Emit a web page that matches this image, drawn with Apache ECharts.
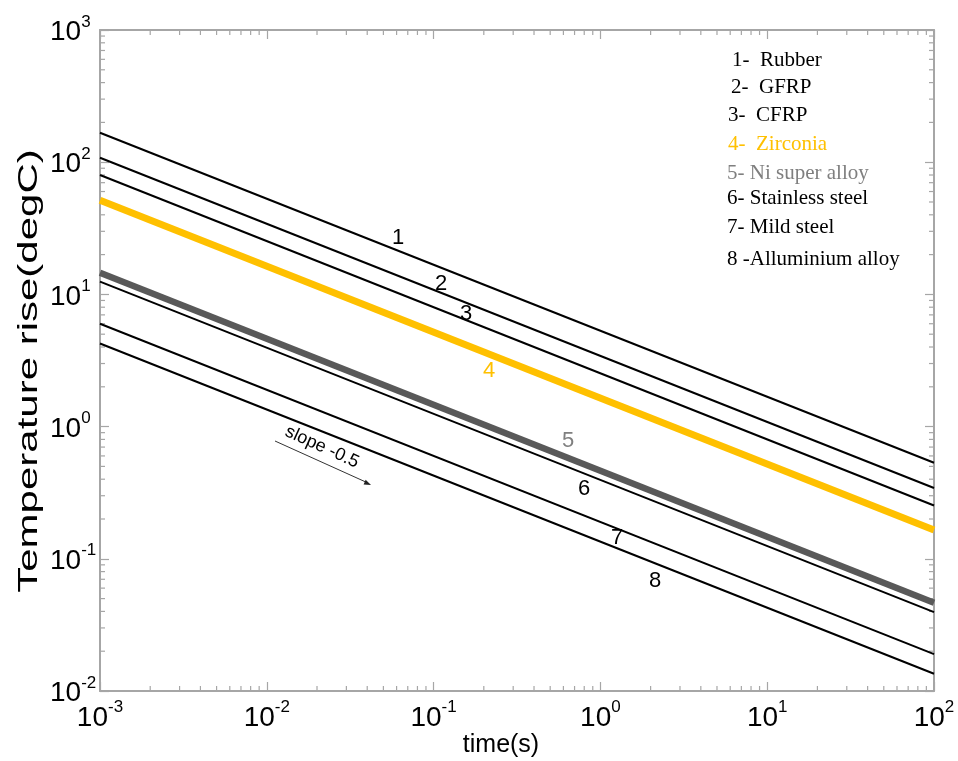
<!DOCTYPE html>
<html>
<head>
<meta charset="utf-8">
<script src="https://cdn.jsdelivr.net/npm/echarts@6/dist/echarts.min.js"></script>
<style>
  html, body { margin: 0; padding: 0; background: #ffffff; }
  #chart { width: 958px; height: 761px; }
</style>
</head>
<body>
<div id="chart"></div>
<script>
// Time at the start and end of every trace (s)
const timeSpan = [0.001, 100];

// Temperature rise (degC) at the start and end of each trace
const rubber         = [167, 0.533];
const gfrp           = [108, 0.343];
const cfrp           = [80, 0.253];
const zirconia       = [51.5, 0.165];
const niSuperAlloy   = [14.6, 0.0465];
const stainlessSteel = [12.5, 0.0395];
const mildSteel      = [6.0, 0.019];
const aluminiumAlloy = [4.25, 0.0135];

const legendLabels = [
  '1-  Rubber', '2-  GFRP', '3-  CFRP', '4-  Zirconia',
  '5- Ni super alloy', '6- Stainless steel', '7- Mild steel', '8 -Alluminium alloy'
];
const curveNumbers = ['1', '2', '3', '4', '5', '6', '7', '8'];

// Axis ranges and minor tick multipliers for the decades
const xRange = [0.001, 100];
const yRange = [0.01, 1000];
const minorSteps = [2, 3, 4, 5, 6, 7, 8, 9];

const BLACK = '#000000';
const AMBER = '#FFC000';
const GREY = '#595959';
const GREY_TEXT = '#7f7f7f';
const AXIS_GREY = '#a6a6a6';

const traces = [
  { name: 'Rubber', v: rubber, color: BLACK, width: 2 },
  { name: 'GFRP', v: gfrp, color: BLACK, width: 2 },
  { name: 'CFRP', v: cfrp, color: BLACK, width: 2 },
  { name: 'Zirconia', v: zirconia, color: AMBER, width: 7 },
  { name: 'Ni super alloy', v: niSuperAlloy, color: GREY, width: 6.5 },
  { name: 'Stainless steel', v: stainlessSteel, color: BLACK, width: 2 },
  { name: 'Mild steel', v: mildSteel, color: BLACK, width: 2 },
  { name: 'Alluminium alloy', v: aluminiumAlloy, color: BLACK, width: 2 }
];

function decadesBetween(lo, hi) {
  const out = [];
  for (let e = Math.round(Math.log10(lo)); e < Math.round(Math.log10(hi)); e++) out.push(e);
  return out;
}
const xMinor = [];
decadesBetween(xRange[0], xRange[1]).forEach(e => minorSteps.forEach(k => xMinor.push(k * Math.pow(10, e))));
const yMinor = [];
decadesBetween(yRange[0], yRange[1]).forEach(e => minorSteps.forEach(k => yMinor.push(k * Math.pow(10, e))));

const FONT = '"Liberation Sans", Arial, sans-serif';
const SERIF = '"Liberation Serif", "Times New Roman", serif';

const powerLabel = v => '{b|10}{e|' + Math.round(Math.log10(v)) + '}';
const powerRich = {
  b: { fontFamily: FONT, fontSize: 28, color: '#000', verticalAlign: 'bottom' },
  e: { fontFamily: FONT, fontSize: 17, color: '#000', verticalAlign: 'bottom', padding: [0, 0, 16, 0] }
};

const axisLineStyle = { color: AXIS_GREY, width: 2 };
const baseLog = { type: 'log', logBase: 10, splitLine: { show: false } };

const chart = echarts.init(document.getElementById('chart'), null, { renderer: 'canvas' });

const minorTickSeries = (isX) => ({
  type: 'custom',
  silent: true,
  z: 1,
  data: isX ? xMinor.map(v => [v, yRange[0]]) : yMinor.map(v => [xRange[0], v]),
  renderItem: (params, api) => {
    const cs = params.coordSys;
    const len = 5;
    const style = { stroke: AXIS_GREY, lineWidth: 1.2 };
    if (isX) {
      const px = api.coord([api.value(0), yRange[0]])[0];
      return { type: 'group', children: [
        { type: 'line', shape: { x1: px, y1: cs.y + cs.height, x2: px, y2: cs.y + cs.height - len }, style },
        { type: 'line', shape: { x1: px, y1: cs.y, x2: px, y2: cs.y + len }, style }
      ] };
    }
    const py = api.coord([xRange[0], api.value(1)])[1];
    return { type: 'group', children: [
      { type: 'line', shape: { x1: cs.x, y1: py, x2: cs.x + len, y2: py }, style },
      { type: 'line', shape: { x1: cs.x + cs.width, y1: py, x2: cs.x + cs.width - len, y2: py }, style }
    ] };
  }
});

const lineSeries = traces.map(t => ({
  name: t.name,
  type: 'line',
  showSymbol: false,
  symbol: 'none',
  silent: true,
  z: 3,
  lineStyle: { color: t.color, width: t.width, cap: 'butt' },
  data: [[timeSpan[0], t.v[0]], [timeSpan[1], t.v[1]]]
}));

// Numbers written along the traces
const numberSpots = [
  [398, 238, BLACK], [441, 284, BLACK], [466, 314, BLACK], [489, 371, AMBER],
  [568, 441, GREY_TEXT], [584, 489, BLACK], [617, 538, BLACK], [655, 581, BLACK]
];
const numberGraphics = curveNumbers.map((n, i) => ({
  type: 'text', x: numberSpots[i][0], y: numberSpots[i][1], z: 10,
  style: { text: n, fill: numberSpots[i][2], font: '22px ' + FONT, align: 'center', verticalAlign: 'middle' }
}));

// Legend column
const legendSpots = [
  [732, 60, BLACK], [731, 87, BLACK], [728, 115, BLACK], [728, 144, AMBER],
  [727, 173, GREY_TEXT], [727, 198, BLACK], [727, 227, BLACK], [727, 259, BLACK]
];
const legendGraphics = legendLabels.map((s, i) => ({
  type: 'text', x: legendSpots[i][0], y: legendSpots[i][1], z: 10,
  style: { text: s, fill: legendSpots[i][2], font: '21px ' + SERIF, align: 'left', verticalAlign: 'middle' }
}));

const angle = Math.atan2(43, 95);

chart.setOption({
  animation: false,
  backgroundColor: '#ffffff',
  grid: { left: 100, top: 30, width: 834, height: 661, containLabel: false },
  xAxis: [
    Object.assign({}, baseLog, {
      min: xRange[0], max: xRange[1], position: 'bottom',
      axisLine: { show: true, lineStyle: axisLineStyle },
      axisTick: { show: true, inside: true, length: 9, lineStyle: { color: AXIS_GREY, width: 1.2 } },
      axisLabel: { show: true, margin: 8, formatter: powerLabel, rich: powerRich }
    }),
    Object.assign({}, baseLog, {
      min: xRange[0], max: xRange[1], position: 'top', gridIndex: 0,
      axisLine: { show: true, lineStyle: axisLineStyle },
      axisTick: { show: true, inside: true, length: 9, lineStyle: { color: AXIS_GREY, width: 1.2 } },
      axisLabel: { show: false }
    })
  ],
  yAxis: [
    Object.assign({}, baseLog, {
      min: yRange[0], max: yRange[1], position: 'left',
      axisLine: { show: true, lineStyle: axisLineStyle },
      axisTick: { show: true, inside: true, length: 9, lineStyle: { color: AXIS_GREY, width: 1.2 } },
      axisLabel: { show: true, margin: 50, align: 'left', formatter: powerLabel, rich: powerRich }
    }),
    Object.assign({}, baseLog, {
      min: yRange[0], max: yRange[1], position: 'right', gridIndex: 0,
      axisLine: { show: true, lineStyle: axisLineStyle },
      axisTick: { show: true, inside: true, length: 9, lineStyle: { color: AXIS_GREY, width: 1.2 } },
      axisLabel: { show: false }
    })
  ],
  series: [minorTickSeries(true), minorTickSeries(false)].concat(lineSeries),
  graphic: [
    {
      type: 'text', x: 29, y: 371, rotation: Math.PI / 2, scaleX: 1.5, z: 10,
      style: { text: 'Temperature rise(degC)', font: '28px ' + FONT, fill: '#000', align: 'center', verticalAlign: 'middle' }
    },
    {
      type: 'text', x: 501, y: 745, z: 10,
      style: { text: 'time(s)', font: '25px ' + FONT, fill: '#000', align: 'center', verticalAlign: 'middle' }
    },
    {
      type: 'text', x: 322, y: 447, rotation: -angle, z: 10,
      style: { text: 'slope -0.5', font: '18px ' + FONT, fill: '#000', align: 'center', verticalAlign: 'middle' }
    },
    {
      type: 'line', z: 10,
      shape: { x1: 275, y1: 441, x2: 368, y2: 483 },
      style: { stroke: '#333', lineWidth: 1 }
    },
    {
      type: 'polygon', z: 10, x: 371, y: 485, rotation: -angle,
      shape: { points: [[0, 0], [-7, -2.5], [-7, 2.5]] },
      style: { fill: '#222' }
    }
  ].concat(numberGraphics, legendGraphics)
});
</script>
</body>
</html>
